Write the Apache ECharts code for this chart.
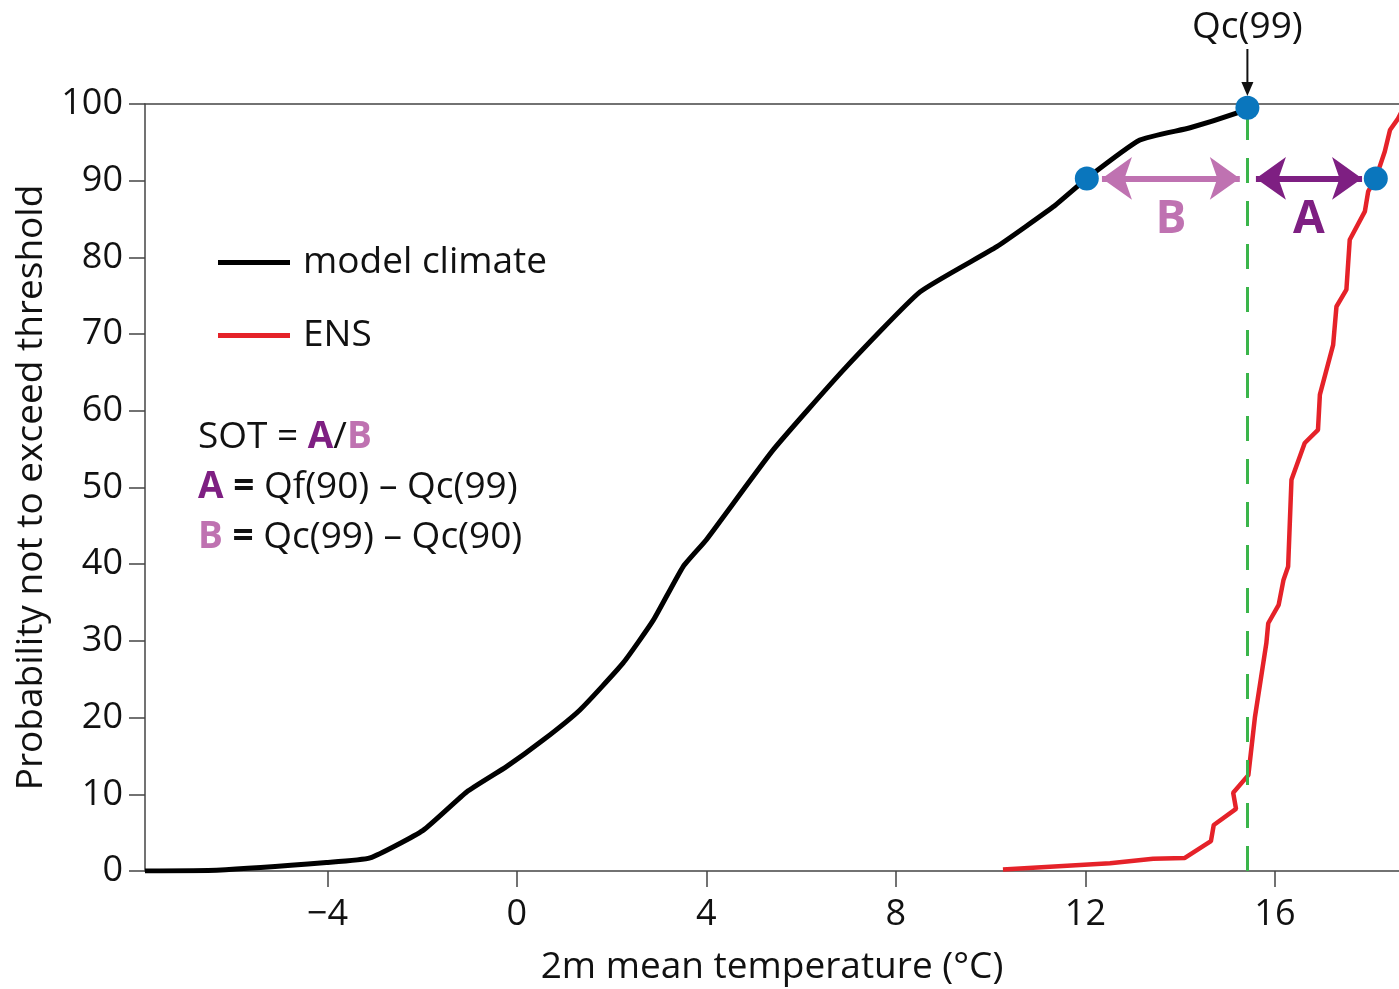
<!DOCTYPE html>
<html>
<head>
<meta charset="utf-8">
<script src="https://cdn.jsdelivr.net/npm/echarts@6/dist/echarts.min.js"></script>
<style>
html,body{margin:0;padding:0;background:#fff;}
#main{width:1399px;height:989px;}
</style>
</head>
<body>
<div id="main"></div>
<script>
// model climate CDF (temperature, probability)
var climateX = [-7.85, -6.34, -4.02, -3.10, -1.98, -1.06, -0.22, 0.56, 1.33, 2.24, 2.88, 3.51, 4.00, 5.41, 6.89, 8.51, 10.13, 11.32, 12.03, 13.15, 14.21, 15.19, 15.42];
var climateY = [0, 0.1, 1.1, 1.7, 5.3, 10.3, 13.6, 17.1, 21.0, 27.1, 32.7, 39.7, 43.2, 54.9, 65.3, 75.5, 81.4, 86.6, 90.3, 95.3, 96.9, 98.8, 99.5];
// ENS forecast CDF
var ensX = [10.26, 12.52, 13.43, 14.10, 14.65, 14.71, 15.18, 15.12, 15.44, 15.58, 15.82, 15.86, 16.08, 16.18, 16.28, 16.35, 16.63, 16.91, 16.95, 17.23, 17.30, 17.51, 17.58, 17.90, 17.97, 18.13, 18.32, 18.43, 18.60, 18.80];
var ensY = [0.2, 1.0, 1.6, 1.7, 3.9, 6.0, 8.1, 10.2, 12.5, 20.1, 29.7, 32.3, 34.7, 37.9, 39.7, 51.0, 55.8, 57.5, 62.1, 68.6, 73.6, 75.8, 82.3, 86.0, 88.6, 90.3, 93.8, 96.6, 98.1, 100.5];
// quantiles
var qc90 = 12.03, qc99 = 15.42, qf90 = 18.13;
var keyPoints = [[qc90, 90.3], [qc99, 99.5], [qf90, 90.3]];
var arrowB = [12.35, 15.26];
var arrowA = [15.60, 17.84];
var xTicks = [-4, 0, 4, 8, 12, 16];

var FONT = '"Open Sans", "DejaVu Sans", sans-serif';
var PURPLE = '#7e1f82', PINK = '#bf72b1';

function pairs(xs, ys){
    var out = [];
    for (var i = 0; i < xs.length; i++) out.push([xs[i], ys[i]]);
    return out;
}

var chart = echarts.init(document.getElementById('main'));
var option = {
    animation: false,
    backgroundColor: '#fff',
    grid: {left: 145, right: 0, top: 104, bottom: 118, outerBoundsMode: 'none', containLabel: false},
    legend: {
        data: ['model climate', 'ENS'],
        orient: 'vertical',
        left: 213, top: 239,
        itemWidth: 72, itemHeight: 5, itemGap: 36,
        icon: 'rect',
        selectedMode: false,
        textStyle: {fontSize: 37, color: '#111', fontFamily: FONT, padding: [0, 0, 0, 8]}
    },
    xAxis: [{
        type: 'value', min: -7.85, max: 18.62,
        name: '2m mean temperature (°C)',
        nameLocation: 'middle', nameGap: 78,
        nameTextStyle: {fontSize: 37, color: '#111', fontFamily: FONT},
        axisLine: {lineStyle: {color: '#444', width: 1.5}},
        axisTick: {show: true, length: 16, customValues: xTicks, lineStyle: {color: '#444', width: 1.5}},
        axisLabel: {customValues: xTicks, fontSize: 36, color: '#111', fontFamily: FONT, margin: 26,
            formatter: function(v){ return String(v).replace('-', '\u2212'); }},
        splitLine: {show: false}
    }, {
        type: 'value', min: -7.85, max: 18.62, position: 'top',
        axisLine: {show: true, lineStyle: {color: '#444', width: 1.5}},
        axisTick: {show: false}, axisLabel: {show: false}, splitLine: {show: false}
    }],
    yAxis: {
        type: 'value', min: 0, max: 100, interval: 10,
        name: 'Probability not to exceed threshold',
        nameLocation: 'middle', nameGap: 94,
        nameTextStyle: {fontSize: 37, color: '#111', fontFamily: FONT},
        axisLine: {show: true, onZero: false, lineStyle: {color: '#444', width: 1.5}},
        axisTick: {show: true, length: 16, lineStyle: {color: '#444', width: 1.5}},
        axisLabel: {fontSize: 36, color: '#111', fontFamily: FONT, margin: 22},
        splitLine: {show: false}
    },
    series: [{
        name: 'model climate', type: 'line', data: pairs(climateX, climateY),
        showSymbol: false, smooth: 0.15, color: '#000',
        lineStyle: {width: 5, color: '#000'}, z: 3
    }, {
        name: 'ENS', type: 'line', data: pairs(ensX, ensY),
        showSymbol: false, color: '#e52229', clip: true,
        lineStyle: {width: 4.5, color: '#e52229'}, z: 3,
        markLine: {
            silent: true, symbol: 'none',
            lineStyle: {color: '#3ab54a', width: 3, type: [25, 18]},
            label: {show: false},
            data: [[{coord: [qc99, 0]}, {coord: [qc99, 99.5]}]]
        }
    }, {
        name: 'arrows', type: 'line', data: [], z: 4,
        markLine: {
            silent: true,
            symbol: ['arrow', 'arrow'], symbolSize: [32, 30],
            data: [
                [{coord: [arrowB[0], 90.3], lineStyle: {color: PINK}, label: {formatter: 'B', color: PINK}},
                 {coord: [arrowB[1], 90.3]}],
                [{coord: [arrowA[0], 90.3], lineStyle: {color: PURPLE}, label: {formatter: 'A', color: PURPLE}},
                 {coord: [arrowA[1], 90.3]}]
            ],
            lineStyle: {width: 6, type: 'solid'},
            label: {show: true, position: 'insideMiddleBottom', distance: 18,
                fontSize: 46, fontWeight: 'bold', fontFamily: FONT}
        }
    }, {
        name: 'quantiles', type: 'scatter', data: keyPoints,
        symbolSize: 24, itemStyle: {color: '#0a76bd', opacity: 1}, z: 6
    }]
};
chart.setOption(option);

var tip = chart.convertToPixel({xAxisIndex: 0, yAxisIndex: 0}, [qc99, 100]);
chart.setOption({
    graphic: [{
        type: 'text', left: 198, top: 419,
        style: {
            text: '{n|SOT = }{a|A}{n|/}{b|B}\n{a|A}{e| = }{n|Qf(90) \u2013 Qc(99)}\n{b|B}{e| = }{n|Qc(99) \u2013 Qc(90)}',
            rich: {
                n: {fontSize: 37, fontFamily: FONT, fill: '#111', lineHeight: 50},
                e: {fontSize: 37, fontFamily: FONT, fill: '#111', fontWeight: 'bold', lineHeight: 50},
                a: {fontSize: 37, fontFamily: FONT, fill: PURPLE, fontWeight: 'bold', lineHeight: 50},
                b: {fontSize: 37, fontFamily: FONT, fill: PINK, fontWeight: 'bold', lineHeight: 50}
            }
        }
    }, {
        type: 'text', x: tip[0], y: tip[1] - 77,
        style: {text: 'Qc(99)', fontSize: 37, fontFamily: FONT, fill: '#111', align: 'center', verticalAlign: 'middle'}
    }, {
        type: 'line', shape: {x1: tip[0], y1: tip[1] - 55, x2: tip[0], y2: tip[1] - 18},
        style: {stroke: '#111', lineWidth: 2}
    }, {
        type: 'polygon',
        shape: {points: [[tip[0] - 6, tip[1] - 22], [tip[0] + 6, tip[1] - 22], [tip[0], tip[1] - 8]]},
        style: {fill: '#111'}
    }]
});
</script>
</body>
</html>
